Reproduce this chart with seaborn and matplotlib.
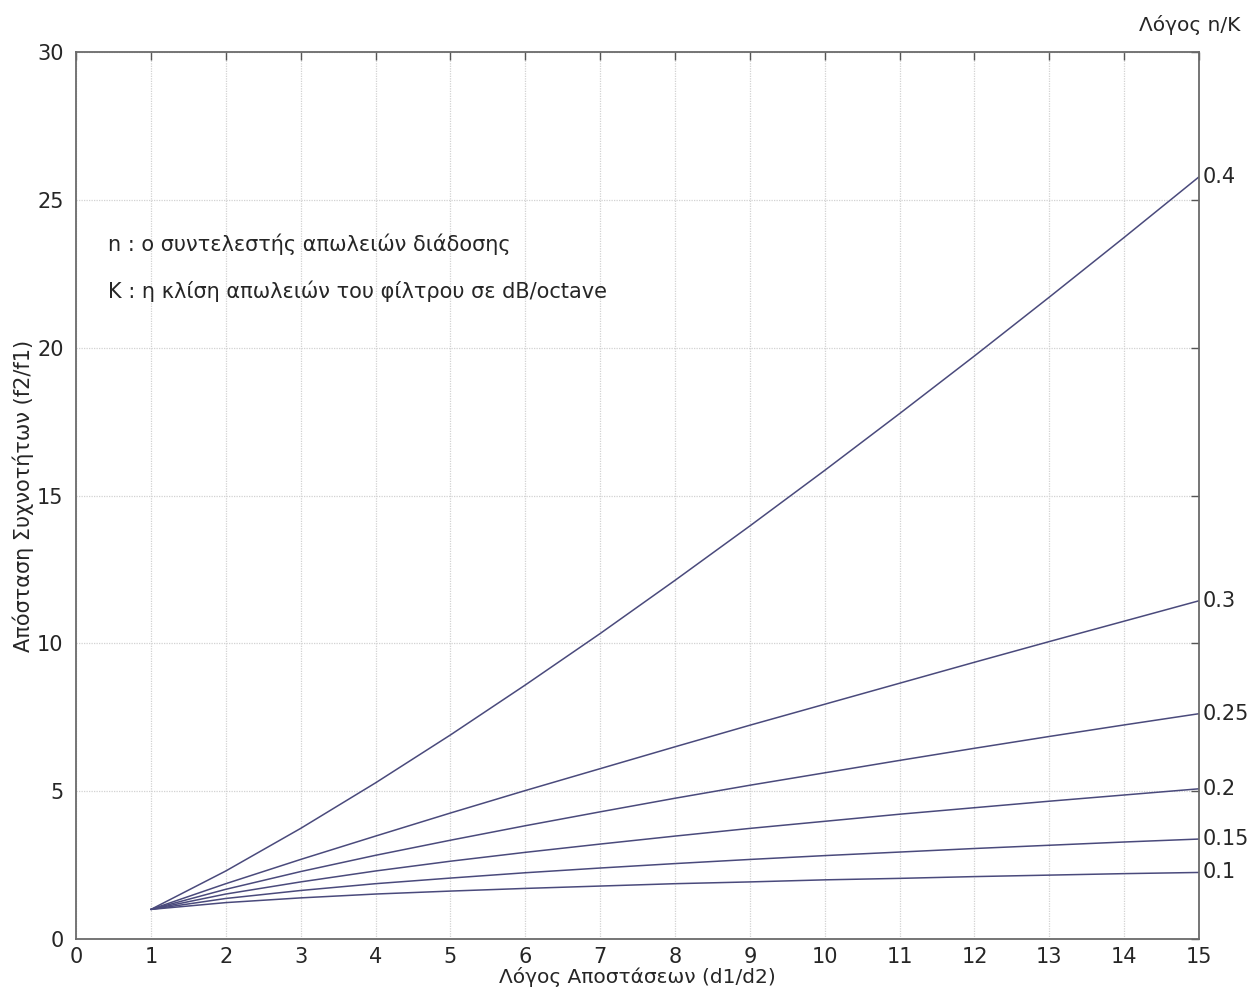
# f2/f1 vs d1/d2 curves for several n/K ratios
import pandas as pd
import matplotlib
matplotlib.use("Agg")
import matplotlib.pyplot as plt
import seaborn as sns

sns.set_style("white")
plt.rcParams['font.family'] = ['DejaVu Sans']

# distance ratio d1/d2
dist = [1, 2, 3, 4, 5, 6, 7, 8, 9, 10, 11, 12, 13, 14, 15]

# frequency ratio f2/f1 for each n/K
ratio_04 = [1.0, 2.30, 3.74, 5.28, 6.90, 8.59, 10.33, 12.13, 13.97, 15.85, 17.77, 19.72, 21.71, 23.73, 25.78]
ratio_03 = [1.0, 1.87, 2.69, 3.48, 4.26, 5.02, 5.76, 6.50, 7.23, 7.94, 8.65, 9.36, 10.06, 10.75, 11.44]
ratio_025 = [1.0, 1.68, 2.28, 2.83, 3.34, 3.83, 4.30, 4.76, 5.20, 5.62, 6.04, 6.45, 6.85, 7.24, 7.62]
ratio_02 = [1.0, 1.52, 1.93, 2.30, 2.63, 2.93, 3.21, 3.48, 3.74, 3.98, 4.22, 4.44, 4.66, 4.87, 5.08]
ratio_015 = [1.0, 1.37, 1.64, 1.87, 2.06, 2.24, 2.40, 2.55, 2.69, 2.82, 2.94, 3.06, 3.17, 3.28, 3.38]
ratio_01 = [1.0, 1.23, 1.39, 1.52, 1.62, 1.71, 1.79, 1.87, 1.93, 2.00, 2.05, 2.11, 2.16, 2.21, 2.25]

nk_labels = ['0.4', '0.3', '0.25', '0.2', '0.15', '0.1']
series = [ratio_04, ratio_03, ratio_025, ratio_02, ratio_015, ratio_01]

rows = []
for lab, vals in zip(nk_labels, series):
    for x, y in zip(dist, vals):
        rows.append({'d': x, 'f': y, 'nk': lab})
df = pd.DataFrame(rows)

line_col = '#4a4a7c'
txt_col = '#262626'

fig = plt.figure(figsize=(12.57, 9.97), dpi=100)
ax = fig.add_axes([0.0605, 0.0582, 0.8934, 0.8896])

sns.lineplot(data=df, x='d', y='f', hue='nk', palette=[line_col] * 6,
             legend=False, linewidth=1.1, ax=ax)

ax.set_xlim(0, 15)
ax.set_ylim(0, 30)
ax.set_xticks(range(0, 16))
ax.set_yticks(range(0, 31, 5))
ax.grid(True, color='#d2d2d2', linestyle=(0, (1, 1)), linewidth=0.9)
ax.tick_params(direction='in', length=6, width=1, color='#555555',
               top=True, right=True, labelsize=15, labelcolor=txt_col)
ax.tick_params(axis='x', pad=6)
ax.tick_params(axis='y', pad=9)
for s in ax.spines.values():
    s.set_color('#6a6a6a')
    s.set_linewidth(1.3)

ax.set_xlabel('Λόγος Αποστάσεων (d1/d2)', fontsize=14.5, labelpad=0, color=txt_col)
ax.set_ylabel('Απόσταση Συχνοτήτων (f2/f1)', fontsize=15, labelpad=2, color=txt_col)

# end-of-curve labels
for lab, vals in zip(nk_labels, series):
    ax.text(15.05, vals[-1], lab, fontsize=15, va='center', ha='left',
            color=txt_col, clip_on=False)

ax.text(1.0365, 1.030, 'Λόγος n/K', transform=ax.transAxes, fontsize=14.5,
        ha='right', va='center', color=txt_col)

ax.text(0.43, 23.5, 'n : ο συντελεστής απωλειών διάδοσης', fontsize=15,
        va='center', color=txt_col)
ax.text(0.43, 21.9, 'K : η κλίση απωλειών του φίλτρου σε dB/octave', fontsize=15,
        va='center', color=txt_col)

fig.savefig('out.png', dpi=100)
